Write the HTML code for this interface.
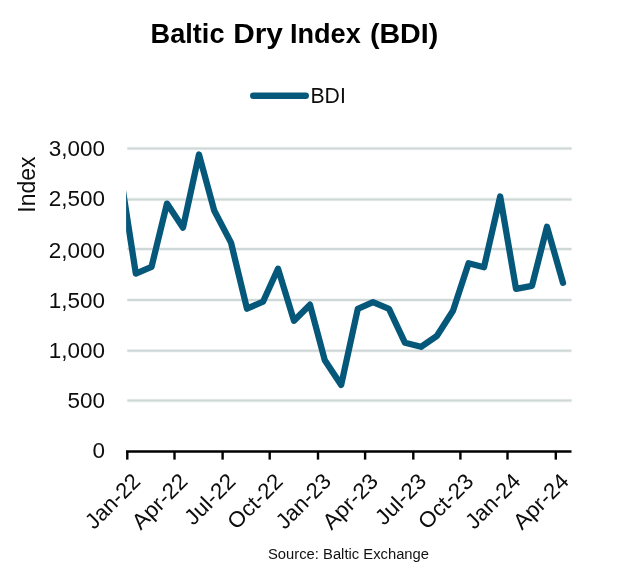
<!DOCTYPE html>
<html lang="en"><head><meta charset="utf-8"><title>Baltic Dry Index (BDI)</title>
<style>html,body{margin:0;padding:0;background:#fff;}body{width:619px;height:574px;overflow:hidden;}svg{display:block;}text{font-family:"Liberation Sans",sans-serif;}</style></head><body>
<svg width="619" height="574" viewBox="0 0 619 574" fill="#0d0d0d">
<rect width="619" height="574" fill="#fff"/>
<defs><clipPath id="plot"><rect x="126.1" y="140" width="445.4" height="311.5"/></clipPath></defs>
<text y="43.4" font-size="28" font-weight="bold" fill="#000"><tspan x="150.6" textLength="73.9" lengthAdjust="spacingAndGlyphs">Baltic</tspan> <tspan x="233.2" textLength="49.7" lengthAdjust="spacingAndGlyphs">Dry</tspan> <tspan x="290.0" textLength="70.7" lengthAdjust="spacingAndGlyphs">Index</tspan> <tspan x="369.9" textLength="68.3" lengthAdjust="spacingAndGlyphs">(BDI)</tspan></text>
<line x1="253.3" y1="95.7" x2="305.7" y2="95.7" stroke="#06587B" stroke-width="6.5" stroke-linecap="round"/>
<text x="310.5" y="102.9" font-size="22.8" textLength="35.3" lengthAdjust="spacingAndGlyphs">BDI</text>
<line x1="127.3" y1="148.5" x2="571.8" y2="148.5" stroke="#F1F4F4" stroke-width="3.6"/>
<line x1="127.3" y1="148.5" x2="571.5" y2="148.5" stroke="#D0D7D7" stroke-width="2"/>
<line x1="127.3" y1="199.4" x2="571.8" y2="199.4" stroke="#F1F4F4" stroke-width="3.6"/>
<line x1="127.3" y1="199.4" x2="571.5" y2="199.4" stroke="#D0D7D7" stroke-width="2"/>
<line x1="127.3" y1="249.1" x2="571.8" y2="249.1" stroke="#F1F4F4" stroke-width="3.6"/>
<line x1="127.3" y1="249.1" x2="571.5" y2="249.1" stroke="#D0D7D7" stroke-width="2"/>
<line x1="127.3" y1="300.0" x2="571.8" y2="300.0" stroke="#F1F4F4" stroke-width="3.6"/>
<line x1="127.3" y1="300.0" x2="571.5" y2="300.0" stroke="#D0D7D7" stroke-width="2"/>
<line x1="127.3" y1="350.8" x2="571.8" y2="350.8" stroke="#F1F4F4" stroke-width="3.6"/>
<line x1="127.3" y1="350.8" x2="571.5" y2="350.8" stroke="#D0D7D7" stroke-width="2"/>
<line x1="127.3" y1="400.6" x2="571.8" y2="400.6" stroke="#F1F4F4" stroke-width="3.6"/>
<line x1="127.3" y1="400.6" x2="571.5" y2="400.6" stroke="#D0D7D7" stroke-width="2"/>
<text transform="translate(105.1,156.4) scale(0.99,1)" font-size="22.7" text-anchor="end">3,000</text>
<text transform="translate(105.1,206.0) scale(0.99,1)" font-size="22.7" text-anchor="end">2,500</text>
<text transform="translate(105.1,257.5) scale(0.99,1)" font-size="22.7" text-anchor="end">2,000</text>
<text transform="translate(105.1,308.1) scale(0.99,1)" font-size="22.7" text-anchor="end">1,500</text>
<text transform="translate(105.1,358.0) scale(0.99,1)" font-size="22.7" text-anchor="end">1,000</text>
<text transform="translate(105.1,408.4) scale(0.99,1)" font-size="22.7" text-anchor="end">500</text>
<text transform="translate(105.1,457.9) scale(0.99,1)" font-size="22.7" text-anchor="end">0</text>
<text transform="translate(34.8,184.6) rotate(-90)" font-size="23" text-anchor="middle">Index</text>
<polyline clip-path="url(#plot)" fill="none" stroke="#06587B" stroke-width="6.3" stroke-linejoin="round" stroke-linecap="round" points="119.6,169.0 135.8,273.6 151.5,266.9 167.0,203.6 183.0,227.7 199.0,154.5 214.3,210.8 231.0,242.6 247.0,308.7 263.0,301.7 278.0,268.7 294.0,320.8 310.0,304.7 324.8,360.3 341.2,384.9 357.8,308.8 373.0,302.2 389.0,308.8 405.0,342.8 421.0,346.8 437.0,335.8 453.0,310.8 468.6,263.2 484.0,267.2 500.2,196.5 516.0,288.8 532.0,285.8 547.0,226.8 563.0,282.8"/>
<line x1="126.0" y1="451.5" x2="571.5" y2="451.5" stroke="#000" stroke-width="2.5"/>
<line x1="127.3" y1="451.5" x2="127.3" y2="459.6" stroke="#000" stroke-width="2.4"/>
<line x1="174.5" y1="451.5" x2="174.5" y2="459.6" stroke="#000" stroke-width="2.4"/>
<line x1="222.6" y1="451.5" x2="222.6" y2="459.6" stroke="#000" stroke-width="2.4"/>
<line x1="269.7" y1="451.5" x2="269.7" y2="459.6" stroke="#000" stroke-width="2.4"/>
<line x1="318.0" y1="451.5" x2="318.0" y2="459.6" stroke="#000" stroke-width="2.4"/>
<line x1="365.1" y1="451.5" x2="365.1" y2="459.6" stroke="#000" stroke-width="2.4"/>
<line x1="413.3" y1="451.5" x2="413.3" y2="459.6" stroke="#000" stroke-width="2.4"/>
<line x1="460.4" y1="451.5" x2="460.4" y2="459.6" stroke="#000" stroke-width="2.4"/>
<line x1="507.5" y1="451.5" x2="507.5" y2="459.6" stroke="#000" stroke-width="2.4"/>
<line x1="555.8" y1="451.5" x2="555.8" y2="459.6" stroke="#000" stroke-width="2.4"/>
<text transform="translate(141.7,482.7) rotate(-45) scale(1.000,1)" font-size="22" text-anchor="end">Jan-22</text>
<text transform="translate(188.9,482.7) rotate(-45) scale(1.030,1)" font-size="22" text-anchor="end">Apr-22</text>
<text transform="translate(237.0,482.7) rotate(-45) scale(1.030,1)" font-size="22" text-anchor="end">Jul-22</text>
<text transform="translate(284.1,482.7) rotate(-45) scale(1.024,1)" font-size="22" text-anchor="end">Oct-22</text>
<text transform="translate(332.4,482.7) rotate(-45) scale(1.000,1)" font-size="22" text-anchor="end">Jan-23</text>
<text transform="translate(379.5,482.7) rotate(-45) scale(1.030,1)" font-size="22" text-anchor="end">Apr-23</text>
<text transform="translate(427.7,482.7) rotate(-45) scale(1.030,1)" font-size="22" text-anchor="end">Jul-23</text>
<text transform="translate(474.8,482.7) rotate(-45) scale(1.024,1)" font-size="22" text-anchor="end">Oct-23</text>
<text transform="translate(521.9,482.7) rotate(-45) scale(1.000,1)" font-size="22" text-anchor="end">Jan-24</text>
<text transform="translate(570.2,482.7) rotate(-45) scale(1.030,1)" font-size="22" text-anchor="end">Apr-24</text>
<text x="268" y="559.4" font-size="14" fill="#111" textLength="161" lengthAdjust="spacingAndGlyphs">Source: Baltic Exchange</text>
</svg></body></html>
